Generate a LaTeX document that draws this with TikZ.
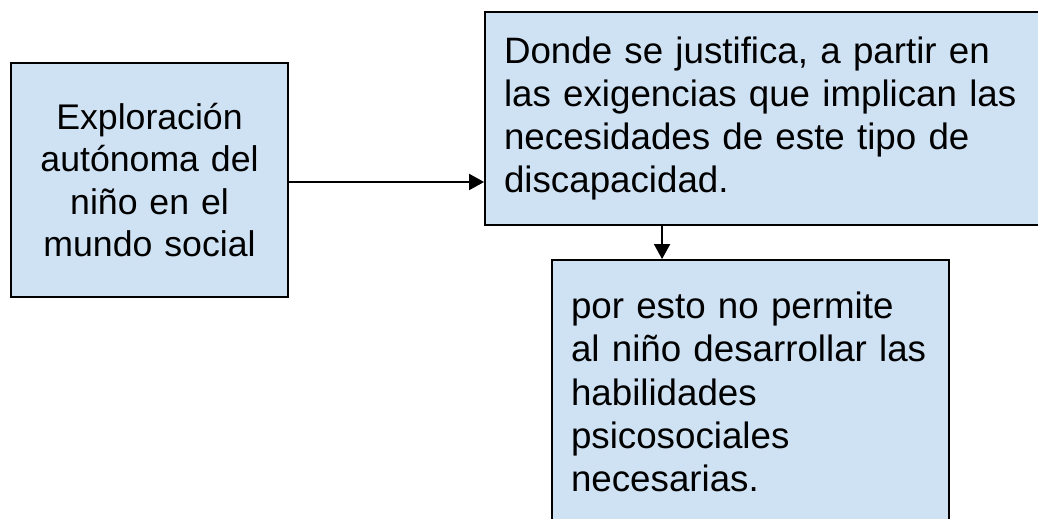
\documentclass[tikz,border=0pt]{standalone}
\usepackage{fontspec}
\setmainfont{Liberation Sans}
\usepackage{tikz}
\usetikzlibrary{positioning,arrows.meta}
\definecolor{cajaazul}{HTML}{CFE2F3}
\tikzset{caja/.style={draw=black, fill=cajaazul, line width=1.1pt, inner xsep=0.38cm, inner ysep=0pt,
		font=\fontsize{20.9pt}{24.6pt}\selectfont}}

\begin{document}
\begin{tikzpicture}[x=0.02cm,y=-0.02cm]
\path[use as bounding box, clip] (0,0) rectangle (1038,519);
\node[caja, minimum width=5.54cm, minimum height=4.68cm, text width=4.78cm, align=center,
	font=\fontsize{20.3pt}{24.2pt}\selectfont] (explora) at (149.5,180)
	{Exploración\\ autónoma del\\ niño en el\\ mundo social};
\node[caja, minimum width=11.2cm, minimum height=4.26cm, text width=10.44cm, align=left] (donde) at (765,118.5)
	{Donde se justifica, a partir en\\ las exigencias que implican las\\ necesidades de este tipo de\\ discapacidad.};
\node[caja, minimum width=7.94cm, minimum height=5.28cm, text width=7.18cm, align=left] (permite) at (750.5,392)
	{por esto no permite\\ al niño desarrollar las\\ habilidades\\ psicosociales\\ necesarias.};
\coordinate (salida) at ([yshift=-0.04cm]explora.east);
\coordinate (baja) at ([xshift=3.56cm]donde.south west);
\path[-{Triangle[length=0.3cm,width=0.32cm]}, line width=1.1pt]
(salida) edge (salida -| donde.west)
(baja) edge (baja |- permite.north);
\end{tikzpicture}
\end{document}
